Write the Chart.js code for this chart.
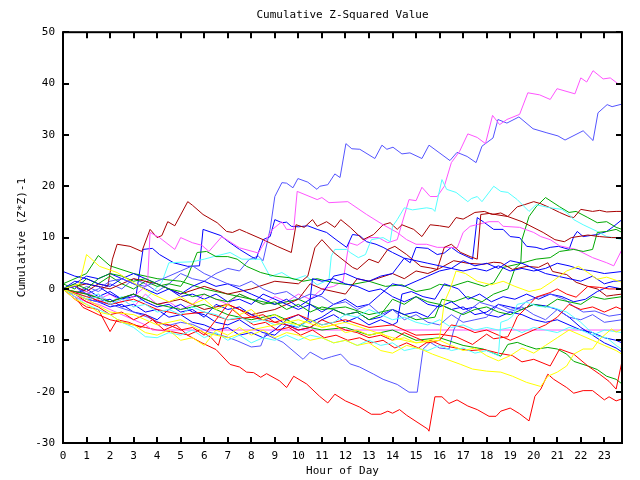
<!DOCTYPE html>
<html>
<head>
<meta charset="utf-8">
<script src="https://cdn.jsdelivr.net/npm/chart.js@4/dist/chart.umd.min.js"></script>
<style>
  html, body { margin: 0; padding: 0; background: #fff; }
  canvas { display: block; }
</style>
</head>
<body>
<canvas id="chart" width="640" height="480"></canvas>
<script>
// each series: [hour, cumulative (z*z)-1] pairs
const slate1 = [[0,0],[0.5,-1],[1,0.5],[1.5,-0.5],[2,1],[2.5,0],[3,2],[3.5,1],[4,-0.5],[4.5,1],[5,3],[5.5,2],[6,1.5],[6.5,3],[7,4],[7.5,3.5],[7.9,5.7],[8.3,6.4],[8.5,5.5],[8.8,11.6],[9.0,18],[9.3,20.7],[9.5,20.6],[9.77,19.7],[9.98,21.5],[10.4,20.8],[10.79,19.4],[10.91,20],[11.25,20.3],[11.55,22.4],[11.77,21.7],[12.02,28.3],[12.27,27.3],[12.61,27.2],[13.25,25.4],[13.55,28],[13.76,27.2],[14.02,27.6],[14.4,26.3],[14.74,26.5],[15.25,25.4],[15.55,28],[16.44,25],[16.74,26.6],[17.17,25.8],[17.55,24.6],[17.8,27.8],[18.27,29.4],[18.48,33],[18.86,32.3],[19.37,33.5],[19.97,31.2],[20.56,30.4],[21.03,29.8],[21.33,29],[22.1,30.8],[22.52,28.9],[22.73,34.3],[23.12,35.9],[23.33,35.5],[23.75,36]];
const magenta1 = [[0,0],[0.5,-1.5],[1,-2.5],[1.5,-1],[2,-3],[2.5,-2],[3,-3.5],[3.5,-1],[4,-3],[4.5,-2.5],[5,-4],[5.5,-3],[6,-1],[6.5,-2],[7,-3],[7.5,-1],[8,-2],[8.5,-3],[9,-1.5],[9.5,-2.5],[10,-1],[10.5,-2],[11,0],[11.5,0.5],[11.9,1.5],[12.15,9],[12.5,8.5],[13,10],[13.4,10],[13.8,9],[14.2,9.6],[14.7,17.4],[15.0,17.2],[15.25,19.8],[15.6,18],[15.9,18],[16.2,20],[16.5,24.6],[16.85,26.8],[17.2,30.2],[17.6,29.5],[17.95,28.3],[18.25,33.8],[18.55,32],[18.86,33],[19.4,34],[19.75,38.2],[20.25,37.8],[20.7,36.9],[20.99,39],[21.75,38],[22.0,41.1],[22.25,40.3],[22.52,42.5],[22.95,40.9],[23.25,41.1],[23.6,39.9],[23.75,39.9]];
const magenta2 = [[0,0],[0.5,-1],[1,-0.5],[1.5,-2],[2,-1],[2.5,-2.5],[3,-1.5],[3.5,0.5],[3.6,1.8],[3.7,11],[4.1,10],[4.75,7.7],[5,10],[5.5,9],[5.9,8.5],[6.2,7.3],[6.75,10.2],[7.5,8],[8.3,7],[8.9,11.6],[9.3,13.1],[9.5,11.6],[9.8,11.6],[9.95,19],[10.8,17.4],[11.0,17.8],[11.3,16.8],[12.1,17],[12.9,14.5],[13.6,12.5],[14.2,11],[14.6,9.6],[15.0,8.7],[15.45,8.7],[15.9,8.1],[16.4,8.1],[16.75,8],[17.0,11],[17.3,12.2],[18.1,13.1],[18.5,13.1],[18.7,12.2],[19.4,12],[20.0,11],[20.3,10.2],[20.7,9.6],[21.1,8.4],[21.8,7.7],[22.5,6.1],[23.1,5.1],[23.4,4.5],[23.75,7.7]];
const magentaFlat = [[0,0],[0.5,-1.5],[1,-2.5],[1.5,-3],[2,-4],[2.5,-5],[3,-6],[3.5,-7],[3.8,-8],[23.75,-8]];
const cyan1 = [[0,0],[0.5,-1],[1,-1.5],[1.5,-1],[2,-2.5],[2.5,-1.5],[3,-2.5],[3.5,-2],[4.2,1.3],[4.5,5.1],[5.5,5.3],[6,5.8],[6.4,6.3],[7.1,7.1],[7.6,5.8],[8.4,5.8],[8.8,2.4],[9.3,3.2],[9.8,1.8],[10.3,2.6],[10.8,0.8],[11.3,1.8],[11.4,6.4],[11.55,7.7],[12.05,7.7],[12.2,7.1],[12.55,6.1],[12.85,6.7],[13.1,9.6],[13.6,10],[13.9,9.2],[14.0,12.2],[14.2,13.5],[14.5,15.8],[14.85,15.4],[15.45,15.8],[15.7,15.6],[15.8,15.1],[16.1,21.3],[16.3,19.4],[16.7,18.8],[17.2,17],[17.35,17.6],[17.6,18],[17.8,17],[18.3,20],[18.6,19],[18.9,18.8],[19.3,17.4],[19.8,15.1],[20.1,16.4],[20.7,15.8],[21.2,15.5],[21.5,14.5],[21.7,13.5],[22.1,12.5],[22.7,11.2],[23.1,10.2],[23.4,10],[23.75,9.6]];
const cyan2 = [[0,0],[0.5,-1.5],[1,-3],[1.5,-4],[2,-5],[2.5,-6.5],[3,-7.5],[3.5,-9.3],[4,-9.5],[4.5,-8.5],[5,-9],[5.5,-8],[6,-9.5],[6.5,-8.5],[7,-10],[7.5,-9],[8,-10.5],[8.5,-9.5],[9,-10],[9.5,-9],[10,-10],[10.5,-9],[11,-9.5],[11.5,-10.5],[12,-10],[12.5,-11],[13,-10],[13.5,-11],[14,-10.5],[14.5,-12],[15,-11.5],[15.5,-12],[16,-11],[16.5,-12],[17,-11.5],[17.5,-12.5],[18,-12],[18.5,-13],[18.6,-6.5],[18.9,-6],[19.1,-5.3],[19.3,-3],[19.7,-2.6],[20.2,-3.4],[20.8,-3.6],[21.4,-4.5],[22,-6.5],[22.3,-7.8],[22.7,-9.2],[23.1,-9.5],[23.5,-11],[23.75,-11.8]];
const cyan3 = [[0,0],[0.5,-1],[1,-2],[1.5,-1.5],[2,-3],[2.5,-2],[3,-3.5],[3.5,-3],[4,-4.5],[4.5,-4],[5,-5],[5.5,-3.5],[6,-4.5],[6.5,-5],[7,-6],[7.5,-5.5],[8,-6.5],[8.5,-6],[9,-7],[9.5,-6.5],[10,-7.5],[10.5,-6],[11,-7],[11.5,-6.5],[12,-5],[12.5,-5.5],[13,-4],[13.5,-5],[14,-6],[14.5,-5.5],[15,-6.5],[15.5,-7],[16,-6],[16.5,-7.5],[17,-7],[17.5,-8],[18,-7.5],[18.5,-8],[19,-7.5],[19.5,-8.5],[20,-7.5],[20.5,-8],[21,-8.5],[21.5,-7.5],[22,-8],[22.5,-9],[23,-8],[23.75,-8.5]];
const green1 = [[0,1],[1,3],[1.5,6.5],[2,4.5],[3,3],[4,2],[5,1.5],[6,0],[7,-1],[8,-2],[9,-3],[10,-2],[11,-4],[12,-3.5],[13,-5],[14,-4],[15,-6],[15.8,-5.5],[16.1,-2],[16.6,-2.5],[17.2,-1.5],[17.8,-2.5],[18.3,-1],[18.9,0],[19.2,4],[19.45,5],[19.5,9.6],[19.8,14.1],[20.1,16],[20.5,17.8],[21.1,16],[21.5,14.9],[21.8,15.1],[22.3,13.9],[22.7,12.9],[23.1,13.1],[23.5,12],[23.75,11.6]];
const green2 = [[0,1],[0.5,0],[1,2],[1.5,1],[2,2.5],[2.5,1],[3,0],[3.5,1.5],[4,0.5],[4.5,1],[5,0.5],[5.3,2.5],[5.7,7.1],[6.1,7.3],[6.5,6.3],[7,6.3],[7.4,5.8],[7.8,4.4],[8.4,3.2],[9,2.5],[9.6,2.2],[10.2,1.5],[10.8,2],[11.5,1.2],[12.2,0.8],[13,1.5],[13.7,0.5],[14.4,0.8],[15,-0.5],[15.6,0],[16,0.9],[16.5,0.5],[17.2,1.5],[17.9,0.5],[18.3,1.2],[18.7,4.2],[19.3,4.8],[20.1,5.8],[20.7,6.1],[21.1,7.3],[21.7,7.7],[22.1,7.3],[22.5,7.7],[22.7,11],[23.1,11.2],[23.5,11.6],[23.75,11]];
const green3 = [[0,0],[1,-1],[2,-2.5],[3,-1],[4,-3],[5,-4],[6,-3],[7,-5],[8,-6],[9,-5],[10,-7],[11,-8],[12,-7.5],[13,-9],[14,-8],[15,-10],[16,-9.5],[17,-11],[17.85,-11.7],[18.6,-13.1],[18.9,-10.8],[19.3,-10.4],[19.7,-11.1],[20.1,-11.7],[20.6,-11.4],[21,-11.7],[21.4,-12.7],[21.7,-14.1],[22.3,-15],[22.7,-15.7],[23.1,-17],[23.5,-17.6],[23.75,-18.5]];
const green4 = [[0,0],[0.5,1],[1,0],[1.5,2],[2,3],[2.5,2.5],[3,1.5],[3.5,2],[4,1],[4.5,0],[5,-0.5],[5.5,-1.5],[6,-1],[6.5,-2],[7,-2.5],[7.5,-1],[8,-2],[8.5,-3],[9,-2.5],[9.5,-4],[10,-3],[10.5,-4.5],[11,-3.5],[11.5,-4],[12,-5],[12.5,-4.5],[13,-6],[13.5,-5],[14,-2],[14.5,-3],[15,-1.5],[15.5,-2.5],[16,-3],[16.5,-4],[17,-5],[17.5,-4],[18,-3.5],[18.5,-4.5],[19,-5],[19.5,-4],[20,-3],[20.5,-3.5],[21,-2],[21.5,-2.5],[22,-3],[22.5,-1.5],[23,-2],[23.75,-1.5]];
const darkRed1 = [[0,0],[0.5,0.5],[1,-0.5],[1.5,1],[1.9,0.5],[2.1,5.8],[2.3,8.7],[2.85,8.3],[3.35,7.3],[3.7,11.6],[4,10],[4.2,10.4],[4.45,13.1],[4.75,12.3],[5.3,17],[5.5,16.3],[5.95,14.5],[6.55,12.9],[6.95,11.2],[7.2,11],[7.5,11.6],[7.8,11],[8.5,9.6],[9.1,8.3],[9.7,7.1],[9.9,12.5],[10.25,12],[10.6,13.5],[10.8,12.2],[11.2,13.1],[11.55,12],[11.8,13.5],[12.2,12],[12.75,9.6],[13.2,10.6],[13.6,12.5],[13.9,12.9],[14.2,11.6],[14.4,12.5],[14.9,11.6],[15.25,10.2],[15.6,12.5],[16,12.3],[16.4,12],[16.7,13.9],[17.0,13.6],[17.2,14.1],[17.5,14.9],[17.9,15.1],[18.25,14.5],[18.6,14.8],[18.9,14.1],[19.3,16],[19.6,16.4],[20,17],[20.3,16.6],[20.7,15.8],[21.1,14.9],[21.5,14.1],[21.7,13.9],[22,15.5],[22.5,15.1],[22.8,15.3],[23.1,15],[23.5,15.1],[23.75,15.1]];
const darkRed2 = [[0,0],[1,1],[2,0],[3,2],[4,1],[5,-1],[6,0.5],[7,-1],[8,0],[9,1.5],[10,1],[10.4,2.5],[10.7,8],[11,9.6],[11.5,7.1],[12.3,4.2],[12.5,3.8],[13,5.8],[13.4,5.1],[13.8,7.7],[14.1,8.3],[14.6,6.7],[15.2,4.4],[15.6,4.1],[15.9,3.8],[16.2,8.1],[16.5,8.7],[16.9,7.1],[17.3,6.3],[17.6,5.8],[17.75,14.5],[18.1,14.7],[18.9,14.1],[19.5,13.1],[20.4,11],[20.9,9.6],[21.3,9.2],[21.6,10],[22.3,10.5],[22.8,10.2],[23.3,10],[23.75,10]];
const darkRed3 = [[0,0],[1,-1],[2,-2.5],[3,-1],[4,-3],[5,-2],[6,-4],[7,-3],[8,-5],[9,-4],[10,-2],[10.5,1],[11,0],[12,-1],[12.5,2],[13,1.5],[14,3],[14.5,2],[15,3.5],[15.5,3],[16,4],[16.6,5.5],[17.2,5],[17.85,4.8],[18.3,5.2],[18.6,5.1],[19.1,3.8],[19.7,4.4],[20.2,4.2],[20.6,5.1],[20.8,3.4],[21.4,2.8],[21.8,1.3],[22.3,0.5],[22.7,0],[23.1,-1.4],[23.4,-1.2],[23.75,-1]];
const blue1 = [[0,0],[0.5,-1],[1,0],[1.5,-1.5],[2,-0.5],[2.5,-2],[3.1,-1.4],[3.4,7.7],[3.8,7.9],[4.1,6.7],[4.7,5.1],[5.3,4.4],[5.8,4.5],[5.95,11.6],[6.7,10.4],[7,9.3],[7.5,7.7],[8,6.3],[8.2,5.8],[8.5,9.6],[8.8,10.2],[9,13.5],[9.3,12.9],[9.5,13],[9.7,12.2],[10,12.1],[10.4,12.3],[10.8,11.6],[11.2,11],[11.6,9.6],[12.05,8.1],[12.3,10.6],[12.6,10.4],[12.9,9.2],[13.3,8.7],[13.6,8.1],[14,7.1],[14.45,6.1],[14.75,5.1],[15,8.1],[15.5,7.9],[15.9,6.7],[16.2,7],[16.5,8.1],[16.8,7.1],[17.4,5.8],[17.6,13.9],[17.85,13.1],[18.3,11.6],[18.7,11.6],[19,10.2],[19.4,10],[19.7,8.3],[20.1,8.1],[20.4,7.7],[20.7,8.1],[21.05,8.3],[21.5,7.7],[21.7,10.2],[21.85,11.2],[22.1,10.2],[22.7,10.6],[23.1,11.2],[23.4,12.2],[23.75,13.5]];
const blue2 = [[0,0],[0.5,0.5],[1,-1],[1.5,-2.5],[2,-2],[2.5,-3.5],[3,-3],[3.5,-4.5],[4,-4],[4.5,-5.5],[5,-5],[5.5,-6.5],[6,-7],[6.5,-8],[7,-7.5],[7.5,-9],[8,-8.5],[8.5,-9.5],[9,-8],[9.5,-6],[10,-5],[10.5,-6.5],[11,-5.5],[11.5,-4],[12,-5],[12.5,-4.5],[13,-6],[13.5,-5.5],[14,-4],[14.5,-5],[15,-4.5],[15.5,-5.5],[16,-3],[16.5,-4],[17,-3.5],[17.5,-5],[18,-4.5],[18.5,-3],[19,-3.5],[19.5,-4],[20,-3],[20.5,-3.3],[21,-4],[21.5,-5.5],[22,-7.5],[22.5,-9],[23,-10.5],[23.5,-11.5],[23.75,-12.3]];
const blue3 = [[0,3.4],[0.5,2.5],[1,2],[1.5,1],[2,0.5],[2.5,2],[3,3],[3.5,2],[4,1],[4.5,0],[5,-1],[5.5,0.5],[6,1.5],[6.5,0.5],[7,1],[7.5,0],[8,-1],[8.5,-2],[9,-3],[9.5,-2],[10,-3.5],[10.5,-2],[11,-1],[11.5,2.5],[12,3],[12.5,2],[13,1.5],[13.5,2.5],[14,3],[14.5,6],[15,5.5],[15.5,5],[16,4.5],[16.5,4],[17,3.5],[17.5,4],[18,3.5],[18.5,4.5],[19,3.5],[19.5,4],[20,3.5],[20.5,4],[21,5],[21.5,4.5],[22,3.8],[22.5,3.5],[23,3],[23.75,3.4]];
const blue4 = [[0,0],[0.5,1],[1,2.5],[1.5,2],[2,3],[2.5,2],[3,1],[3.5,0],[4,-1],[4.5,0],[5,-1.5],[5.5,-1],[6,-2],[6.5,-1],[7,-2.5],[7.5,-2],[8,-3],[8.5,-1],[9,-2],[9.5,-3],[10,-4],[10.5,-3],[11,-4.5],[11.5,-3],[12,-2],[12.5,-3.5],[13,-3],[13.5,-1],[14,1],[14.5,0.5],[15,1.5],[15.5,2.5],[16,3.5],[16.5,4],[17,5.5],[17.5,4.5],[18,5],[18.5,4],[19,5.5],[19.5,5],[20,4],[20.5,3],[21,2.5],[21.5,2],[22,1.5],[22.5,2.5],[23,1],[23.4,1.5],[23.75,1.6]];
const blue5 = [[0,0],[0.5,-1],[1,-2],[1.5,-2.5],[2,-3.5],[2.5,-3],[3,-4.5],[3.5,-5],[4,-6],[4.5,-4],[5,-3],[5.5,-4.5],[6,-5],[6.5,-6.5],[7,-7],[7.5,-6],[8,-7.5],[8.5,-8.5],[9,-9],[9.5,-7],[10,-8],[10.5,-7.5],[11,-6],[11.5,-5],[12,-6.5],[12.5,-5.5],[13,-7],[13.5,-6],[14,-7],[14.2,-6.5],[14.4,-1],[14.8,-0.5],[15.3,-1.5],[15.8,-2],[16.2,1],[16.8,0],[17.2,-2],[17.7,-1],[18.2,-2.5],[18.7,-1.5],[19.2,-2],[19.7,-1],[20.2,-2],[20.7,-1],[21.2,-1.5],[21.7,-2.5],[22.2,-2],[22.7,-0.5],[23.2,0.5],[23.75,0]];
const blue6 = [[0,0],[0.5,1.5],[1,1],[1.5,0.5],[2,-1],[2.5,-2],[3,-1],[3.5,-2.5],[4,-3.5],[4.5,-3],[5,-4.5],[5.5,-4],[6,-5.5],[6.5,-3],[7,-4],[7.5,-3.5],[8,-5],[8.5,-6],[9,-5.5],[9.5,-7],[10,-7.5],[10.4,-6],[10.6,2],[11,1.5],[11.5,2],[12,1],[12.5,0.5],[13,-0.5],[13.5,0],[14,-1.5],[14.5,-2.5],[15,-1.5],[15.5,-3],[16,-3.5],[16.5,-2.5],[17,-4],[17.5,-3.5],[18,-5],[18.5,-5.5],[19,-4.5],[19.5,-5],[20,-6],[20.5,-6.5],[21,-6],[21.5,-7],[22,-8],[22.5,-8.5],[23,-9.5],[23.5,-10],[23.75,-10.5]];
const red1 = [[0,0],[0.5,-1.5],[0.85,-3.6],[1.5,-5],[2,-6],[2.5,-6.5],[3,-7],[3.5,-7.5],[4,-8],[4.6,-8.3],[5.25,-8.9],[5.9,-10.5],[6.5,-11.8],[7.1,-14.7],[7.5,-15.2],[7.8,-16.2],[8.1,-16.3],[8.4,-17.2],[8.65,-16.5],[9.2,-17.9],[9.5,-19.2],[9.8,-17],[10.35,-18.5],[10.9,-20.9],[11.25,-22.2],[11.55,-20.5],[12.0,-21.8],[12.6,-23],[13.1,-24.4],[13.5,-24.4],[13.8,-23.8],[14.0,-24.2],[14.3,-23.5],[14.6,-24.6],[15.5,-27.3],[15.55,-27.7],[15.8,-21],[16.1,-21],[16.4,-22.3],[16.74,-21.6],[17.2,-22.8],[17.6,-23.5],[18.1,-24.8],[18.4,-24.8],[18.6,-23.8],[19,-23.2],[19.4,-24.3],[19.8,-25.7],[20.05,-20.9],[20.3,-19.5],[20.6,-16.6],[20.85,-17.6],[21.4,-19.2],[21.7,-20.3],[22.1,-19.8],[22.5,-19.8],[23.0,-21.6],[23.2,-21],[23.5,-21.8],[23.75,-21.4]];
const red2 = [[0,0],[0.5,-2],[1,-3.5],[1.5,-4],[2,-8.3],[2.3,-6],[2.8,-6.5],[3.3,-7.5],[3.8,-6],[4.3,-8],[4.8,-7],[5.3,-9],[5.8,-8],[6.3,-9.5],[6.6,-11],[6.9,-6],[7.2,-4],[7.6,-5.5],[8.1,-7],[8.6,-6.5],[9.1,-8],[9.6,-7.5],[10.1,-9],[10.6,-8],[11.1,-9.5],[11.6,-9],[12.1,-10],[12.6,-9.5],[13.1,-10.5],[13.6,-10],[14.1,-11.5],[14.6,-10.5],[15.1,-11.5],[15.6,-10],[16.1,-11],[16.7,-11.5],[17.3,-12],[17.9,-11.8],[18.5,-12.5],[19.1,-13],[19.5,-14.2],[20,-13.7],[20.7,-15],[21.1,-11.7],[21.7,-12.7],[22.3,-15],[22.8,-16.6],[23.2,-18],[23.5,-19.5],[23.75,-14.1]];
const red3 = [[0,0],[1,-1.5],[2,-3],[3,-2],[4,-4],[5,-5],[6,-4.5],[7,-6],[8,-5.5],[9,-6.5],[10,-5],[11,-7],[12,-6],[13,-7.5],[14,-7],[15,-9],[16,-8.8],[16.7,-9.3],[17.4,-10.8],[18,-8.8],[18.3,-9.7],[18.9,-9.3],[19.1,-7.5],[19.3,-5.4],[19.7,-3.6],[20.1,-1.6],[20.7,-0.7],[21,0],[21.4,-1],[21.8,-1.6],[22.3,0.5],[22.8,0.3],[23.2,0],[23.75,0]];
const red4 = [[0,0],[0.5,-1],[1,-2.5],[1.5,-3.5],[2,-5],[2.5,-4.5],[3,-6],[3.5,-5],[4,-6.5],[4.5,-7],[5,-8],[5.5,-7.5],[6,-9],[6.5,-6],[7,-3],[7.5,-4],[8,-5.5],[8.5,-5],[9,-6.5],[9.5,-7],[10,-8],[10.5,-7.5],[11,-6],[11.5,-7],[12,-8],[12.5,-8.5],[13,-9.5],[13.5,-9],[14,-10],[14.5,-8.5],[15,-9.5],[15.5,-10.5],[16,-10],[16.5,-7],[17,-7.5],[17.5,-8.5],[18,-8],[18.5,-9],[19,-10],[19.5,-9],[20,-8],[20.5,-7],[21,-5.5],[21.5,-3],[22,-4],[22.5,-3.5],[23,-4.5],[23.5,-3.5],[23.75,-4]];
const yellow1 = [[0,0],[0.7,1],[1,6.7],[1.55,4.4],[2.3,3.2],[3.25,0.5],[3.8,-1],[4.5,-2.5],[5,-1.5],[5.5,-3],[6,-2],[6.5,-4],[7,-3],[7.5,-5],[8,-4],[8.5,-6],[9,-5],[9.5,-6.5],[10,-7],[10.5,-6],[11,-7.5],[11.5,-7],[12,-8.5],[12.5,-8],[13,-9],[13.5,-8.5],[14,-10],[14.5,-9.5],[15,-10.5],[15.5,-10],[16,-9.5],[16.2,-2.6],[16.45,0],[16.7,3.5],[17.1,3],[17.6,1.5],[18.2,0.8],[18.7,1.5],[19.2,0.5],[19.8,-0.5],[20.3,0],[20.8,1.5],[21.4,3.5],[21.9,4.4],[22.3,3.2],[22.7,1.9],[23.1,2.3],[23.75,1.3]];
const yellow2 = [[0,0],[0.5,-2],[1,-3],[1.5,-4.5],[2,-5],[2.5,-6.5],[3,-7],[3.5,-8.5],[4,-9],[4.5,-8],[5,-10],[5.5,-9.5],[6,-11],[6.5,-8],[7,-9],[7.5,-7.5],[8,-9],[8.5,-8],[9,-9.5],[9.5,-8.5],[10,-9],[10.5,-10],[11,-9.5],[11.5,-10.5],[12,-10],[12.5,-11],[13,-10.5],[13.5,-12],[14,-12.5],[14.6,-11],[15.2,-11.7],[15.7,-12.7],[16.3,-13.7],[16.9,-14.7],[17.4,-15.6],[18,-16],[18.6,-16.2],[19.1,-17],[19.7,-18.2],[20.3,-19],[20.6,-17],[21,-16.2],[21.4,-15],[21.7,-12.7],[22.1,-11.7],[22.5,-11.7],[22.8,-9.8],[23.3,-7.8],[23.5,-8.4],[23.75,-7.8]];
const yellow3 = [[0,0],[1,-2],[2,-4.5],[3,-5],[4,-7],[5,-6],[6,-8.5],[7,-9.5],[8,-8],[9,-7],[10,-6],[11,-7.5],[12,-6.5],[13,-8],[14,-9.5],[15,-10.5],[16,-10],[16.5,-11],[17,-12],[17.5,-11.5],[18,-13],[18.5,-14],[19,-13],[19.5,-11.5],[20,-12.5],[20.5,-11],[21,-9.5],[21.5,-8],[22,-9],[22.5,-10],[23,-11],[23.5,-12],[23.75,-12.7]];
const slate2 = [[0,0],[0.5,-1],[1,-2],[2,-3],[3,-4.5],[3.6,-5.5],[4.4,-7.2],[5,-6.5],[5.5,-6.9],[6.2,-8.4],[7,-9.4],[7.4,-10.1],[8,-11.3],[8.4,-11.1],[8.6,-8.8],[9.35,-10.4],[10.2,-13.7],[10.5,-12.3],[11.05,-13.7],[11.4,-13.2],[11.8,-12.7],[12.2,-14.6],[12.6,-15.2],[13.2,-16.6],[13.6,-17.6],[14.2,-18.6],[14.7,-20.1],[15.05,-20.1],[15.2,-15],[15.3,-11.7],[15.6,-10.4],[16,-11.5],[16.4,-11.7],[16.6,-8],[16.9,-5],[17.3,-4],[17.7,-2.6],[18.3,-3.4],[18.9,-4.5],[19.3,-4],[19.7,-2.4],[20.3,-1.4],[20.7,-1],[21.3,-2],[21.7,-3.4],[22.1,-4.5],[22.6,-4.3],[23.2,-5.3],[23.75,-4.9]];
const slate3 = [[0,0],[0.5,0.5],[1,-1],[1.5,0],[2,1.5],[2.5,2],[3,1],[3.5,0.5],[4,1.5],[4.5,2.5],[5,3.5],[5.5,4.5],[6,3],[6.5,2],[7,1],[7.5,0.5],[8,1.5],[8.5,0],[9,-1],[9.5,-0.5],[10,-2],[10.5,-1],[11,-1.5],[11.5,-3],[12,-2.5],[12.5,-4],[13,-3],[13.5,-5],[14,-4],[14.5,-6],[15,-5],[15.5,-6.5],[16,-7],[16.5,-5],[17,-6.5],[17.5,-6],[18,-5.5],[18.5,-3],[19,-4],[19.5,-3.5],[20,-5],[20.5,-6],[21,-4],[21.5,-5.5],[22,-6],[22.5,-5],[23,-6.5],[23.75,-6]];

const yTicks = [-30, -20, -10, 0, 10, 20, 30, 40, 50];
const hourTicks = [0, 1, 2, 3, 4, 5, 6, 7, 8, 9, 10, 11, 12, 13, 14, 15, 16, 17, 18, 19, 20, 21, 22, 23];

const RED = '#ff0000', DARKRED = '#a80000', GREEN = '#00a800', BLUE = '#0000ff',
      SLATE = '#5454ff', CYAN = '#54ffff', MAGENTA = '#ff54ff', YELLOW = '#ffff00';

const series = [
  [yellow3, YELLOW], [yellow2, YELLOW], [yellow1, YELLOW],
  [cyan3, CYAN], [cyan2, CYAN], [red4, RED], [red2, RED], [red3, RED],
  [green4, GREEN], [green3, GREEN], [slate3, SLATE], [slate2, SLATE],
  [blue6, BLUE], [blue5, BLUE], [blue4, BLUE], [blue2, BLUE], [blue3, BLUE],
  [darkRed3, DARKRED], [darkRed2, DARKRED], [green2, GREEN], [magentaFlat, MAGENTA],
  [cyan1, CYAN], [magenta2, MAGENTA], [darkRed1, DARKRED], [green1, GREEN],
  [blue1, BLUE], [red1, RED], [magenta1, MAGENTA], [slate1, SLATE]
];

const FONT = { family: "'DejaVu Sans Mono', monospace", size: 11, weight: 'normal' };

// inward tick marks on all four sides plus the frame
const frameTicks = {
  id: 'frameTicks',
  afterDatasetsDraw(chart) {
    const { ctx, chartArea: a, scales: { x, y } } = chart;
    ctx.save();
    ctx.strokeStyle = '#000';
    ctx.lineWidth = 2;
    ctx.beginPath();
    hourTicks.forEach(h => {
      const px = Math.round(x.getPixelForValue(h));
      ctx.moveTo(px, a.bottom); ctx.lineTo(px, a.bottom - 6);
      ctx.moveTo(px, a.top); ctx.lineTo(px, a.top + 6);
    });
    yTicks.forEach(v => {
      const py = Math.round(y.getPixelForValue(v));
      ctx.moveTo(a.left, py); ctx.lineTo(a.left + 6, py);
      ctx.moveTo(a.right, py); ctx.lineTo(a.right - 6, py);
    });
    ctx.stroke();
    ctx.strokeRect(a.left, a.top, a.right - a.left, a.bottom - a.top);
    ctx.restore();
  }
};

new Chart(document.getElementById('chart'), {
  type: 'line',
  data: {
    datasets: series.map(([pts, color]) => ({
      data: pts.map(([h, v]) => ({ x: h, y: v })),
      borderColor: color,
      borderWidth: 1,
      pointRadius: 0,
      tension: 0,
      fill: false
    }))
  },
  options: {
    responsive: false,
    animation: false,
    events: [],
    layout: { padding: { left: 0, right: 18, top: 0, bottom: 0 } },
    plugins: {
      legend: { display: false },
      tooltip: { enabled: false },
      title: {
        display: true,
        fullSize: false,
        text: 'Cumulative Z-Squared Value',
        color: '#000',
        font: FONT,
        padding: { top: 9, bottom: 10 }
      }
    },
    scales: {
      x: {
        type: 'linear',
        min: 0,
        max: 23.75,
        grid: { display: false, drawTicks: false },
        border: { display: false },
        ticks: {
          stepSize: 1,
          includeBounds: false,
          autoSkip: false,
          maxRotation: 0,
          padding: 7,
          color: '#000',
          font: FONT,
          callback: v => hourTicks.includes(v) ? String(v) : ''
        },
        title: { display: true, text: 'Hour of Day', color: '#000', font: FONT, padding: { top: 0, bottom: 2 } },
        afterFit: s => { s.height = 37; }
      },
      y: {
        min: -30,
        max: 50,
        grid: { display: false, drawTicks: false },
        border: { display: false },
        ticks: {
          stepSize: 10,
          padding: 8,
          color: '#000',
          font: FONT
        },
        title: { display: true, text: 'Cumulative (Z*Z)-1', color: '#000', font: FONT, padding: { top: 16, bottom: 0 } },
        afterFit: s => { s.width = 63; }
      }
    }
  },
  plugins: [frameTicks]
});
</script>
</body>
</html>
